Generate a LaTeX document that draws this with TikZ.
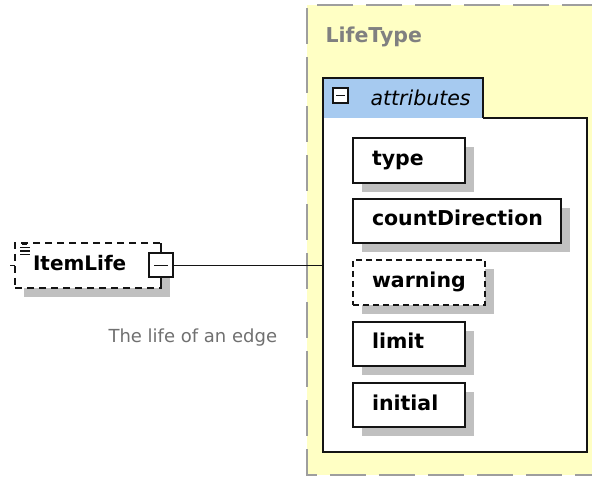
\documentclass[tikz,border=0pt]{standalone}
\usepackage{fontspec}
\setmainfont{DejaVu Sans}
\usetikzlibrary{shadows}

\definecolor{paleyellow}{RGB}{255,255,196}
\definecolor{tabblue}{RGB}{166,202,240}
\definecolor{shadowgray}{RGB}{192,192,192}
\definecolor{framegray}{RGB}{158,158,158}
\definecolor{labelgray}{RGB}{128,128,128}
\definecolor{notegray}{RGB}{112,112,112}
\definecolor{ink}{RGB}{20,20,20}

\begin{document}
\begin{tikzpicture}[x=1pt,y=-1pt,
  boxline/.style={draw=ink, line width=2pt},
  dropsh/.style={drop shadow={shadow xshift=9pt, shadow yshift=-9pt, fill=shadowgray, opacity=1}},
  attr/.style={boxline, fill=white, dropsh, anchor=north west, outer sep=0pt,
    inner xsep=19pt, inner ysep=0pt, align=left, text height=14.5pt, text depth=4.5pt,
    font=\fontsize{20.5}{24}\selectfont\bfseries},
  optional/.style={dash pattern=on 6pt off 4pt},
  toggle/.style={boxline, fill=white, minimum width=#1, minimum height=#1, inner sep=0pt, outer sep=0pt},
  plain/.style={draw=none, inner sep=0pt, outer sep=0pt, anchor=north west}
]
\useasboundingbox (0,0) rectangle (592,478);
\clip (0,0) rectangle (592,478);

% complex type frame
\node[plain, fill=paleyellow, minimum width=340, minimum height=470] (lifetype) at (307,5) {};
\draw[framegray, line width=2.2pt, dash pattern=on 36pt off 13pt]
  (lifetype.north east) -- (lifetype.north west) -- (lifetype.south west) -- (lifetype.south east);
\node[anchor=base west, text=labelgray, font=\fontsize{20.5}{24}\selectfont\bfseries] (typename) at (322,43) {LifeType};

% attribute group: body and header tab
\node[plain, fill=white, minimum width=264, minimum height=334] (attrbox) at (323,118) {};
\node[plain, fill=tabblue, minimum width=160, minimum height=40] (tab) at (323,78) {};
\draw[boxline] (tab.south east) -- (tab.north east) -- (tab.north west) -- (attrbox.south west)
  -- (attrbox.south east) -- (attrbox.north east) -- (tab.south east);
\node[toggle=15pt] (tabtoggle) at (340.5,95.5) {};
\draw[ink, line width=1.8pt] ([xshift=3pt]tabtoggle.west) -- ([xshift=-3pt]tabtoggle.east);
\node[anchor=base west, font=\fontsize{20.5}{24}\selectfont\itshape] (tabtitle) at (367,106) {attributes};

% attributes
\node[attr, minimum width=112, minimum height=45, text width=74] (type) at (353,138) {type};
\node[attr, minimum width=208, minimum height=44, text width=170] (countdir) at (353,199) {countDirection};
\node[attr, optional, minimum width=132, minimum height=45, text width=94] (warning) at (353,260) {warning};
\node[attr, minimum width=112, minimum height=44, text width=74] (limit) at (353,322) {limit};
\node[attr, minimum width=112, minimum height=44, text width=74] (initial) at (353,383) {initial};

% element ItemLife
\node[attr, dash pattern=on 7pt off 5pt, inner xsep=18pt, minimum width=146, minimum height=45, text width=110,
  font=\fontsize{20}{24}\selectfont\bfseries] (itemlife) at (15,243) {ItemLife};
\coordinate (leftstub) at (10,265.5);
\draw[ink, line width=1.8pt] (leftstub) -- (itemlife.west);
% "documented" marker
\draw[ink, line width=1.4pt]
  (22,244) -- (27,244)
  (20,247.5) -- (30,247.5)
  (20,251) -- (30,251)
  (20,254.5) -- (30,254.5);

% expander on the element's right edge
\node[toggle=24pt] (expander) at (itemlife.east) {};
\draw[ink, line width=1.8pt] ([xshift=5pt]expander.west) -- ([xshift=-5pt]expander.east);
\draw[ink, line width=1.8pt] (expander.north) -- (expander.north |- itemlife.north);
\draw[ink, line width=1.8pt] (expander.south) -- (expander.south |- itemlife.south);

% connector to the type's attribute group
\draw[ink, line width=1.8pt] (expander.east) -- (expander.east -| attrbox.west);

% annotation
\node[anchor=base west, text=notegray, font=\fontsize{18}{22}\selectfont] (note) at (105,343) {The life of an edge};
\end{tikzpicture}
\end{document}
